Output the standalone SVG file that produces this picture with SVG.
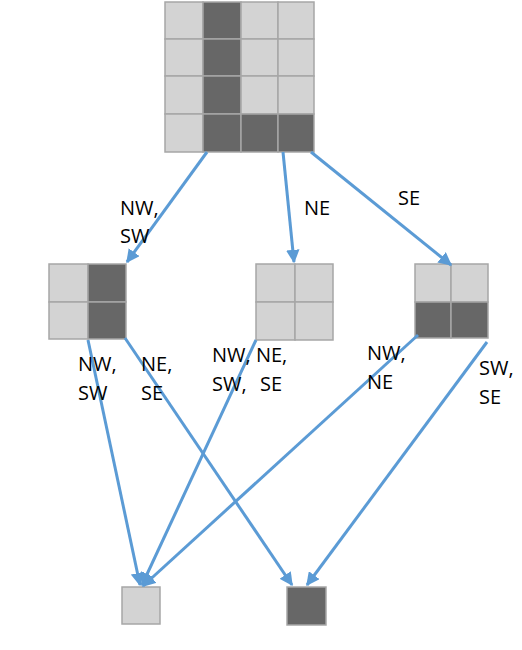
<svg xmlns="http://www.w3.org/2000/svg" width="522" height="650" viewBox="0 0 522 650">
<style>
.l{fill:#d3d3d3;stroke:#a6a6a6;stroke-width:1.5}
.d{fill:#676767;stroke:#a6a6a6;stroke-width:1.5}
.c{stroke:#5b9bd5;stroke-width:3;fill:none;marker-end:url(#ah)}
text{font-family:"Open Sans","Liberation Sans",sans-serif;font-size:20px;fill:#000}
</style>
<defs>
<marker id="ah" viewBox="0 0 10 10" refX="9" refY="5" markerWidth="4.5" markerHeight="4.5" orient="auto" markerUnits="strokeWidth">
<path d="M0,0 L10,5 L0,10 z" fill="#5b9bd5"/>
</marker>
</defs>
<rect width="522" height="650" fill="#fff"/>
<g id="node-top">
<rect class="l" x="165" y="2" width="38" height="37"/>
<rect class="d" x="203" y="2" width="38" height="37"/>
<rect class="l" x="241" y="2" width="37" height="37"/>
<rect class="l" x="278" y="2" width="36" height="37"/>
<rect class="l" x="165" y="39" width="38" height="37"/>
<rect class="d" x="203" y="39" width="38" height="37"/>
<rect class="l" x="241" y="39" width="37" height="37"/>
<rect class="l" x="278" y="39" width="36" height="37"/>
<rect class="l" x="165" y="76" width="38" height="38"/>
<rect class="d" x="203" y="76" width="38" height="38"/>
<rect class="l" x="241" y="76" width="37" height="38"/>
<rect class="l" x="278" y="76" width="36" height="38"/>
<rect class="l" x="165" y="114" width="38" height="38"/>
<rect class="d" x="203" y="114" width="38" height="38"/>
<rect class="d" x="241" y="114" width="37" height="38"/>
<rect class="d" x="278" y="114" width="36" height="38"/>
</g>
<g id="node-left">
<rect class="l" x="49" y="264" width="39" height="38"/>
<rect class="d" x="88" y="264" width="38" height="38"/>
<rect class="l" x="49" y="302" width="39" height="37"/>
<rect class="d" x="88" y="302" width="38" height="37"/>
</g>
<g id="node-mid">
<rect class="l" x="256" y="264" width="39" height="38"/>
<rect class="l" x="295" y="264" width="38" height="38"/>
<rect class="l" x="256" y="302" width="39" height="38"/>
<rect class="l" x="295" y="302" width="38" height="38"/>
</g>
<g id="node-right">
<rect class="l" x="415" y="264" width="36" height="38"/>
<rect class="l" x="451" y="264" width="37" height="38"/>
<rect class="d" x="415" y="302" width="36" height="36"/>
<rect class="d" x="451" y="302" width="37" height="36"/>
</g>
<g id="node-bl">
<rect class="l" x="122" y="587" width="38" height="37"/>
</g>
<g id="node-br">
<rect class="d" x="287" y="587" width="39" height="38"/>
</g>
<g id="connectors">
<line class="c" x1="207" y1="152" x2="127" y2="262"/>
<line class="c" x1="283" y1="152" x2="294" y2="262"/>
<line class="c" x1="311" y1="152" x2="451" y2="265"/>
<line class="c" x1="88" y1="340" x2="140" y2="585"/>
<line class="c" x1="125" y1="338" x2="292" y2="585"/>
<line class="c" x1="256" y1="340" x2="142" y2="585"/>
<line class="c" x1="418" y1="335" x2="143" y2="586"/>
<line class="c" x1="487" y1="342" x2="307" y2="585"/>
</g>
<g id="labels">
<text x="120" y="215">NW,</text>
<text x="120" y="243">SW</text>
<text x="304" y="215">NE</text>
<text x="398" y="205">SE</text>
<text x="78" y="371">NW,</text>
<text x="78" y="400">SW</text>
<text x="141" y="371">NE,</text>
<text x="141" y="400">SE</text>
<text x="212" y="362">NW, NE,</text>
<text x="212" y="391">SW, <tspan x="260">SE</tspan></text>
<text x="367" y="360">NW,</text>
<text x="367" y="389">NE</text>
<text x="479" y="375">SW,</text>
<text x="479" y="404">SE</text>
</g>
</svg>
